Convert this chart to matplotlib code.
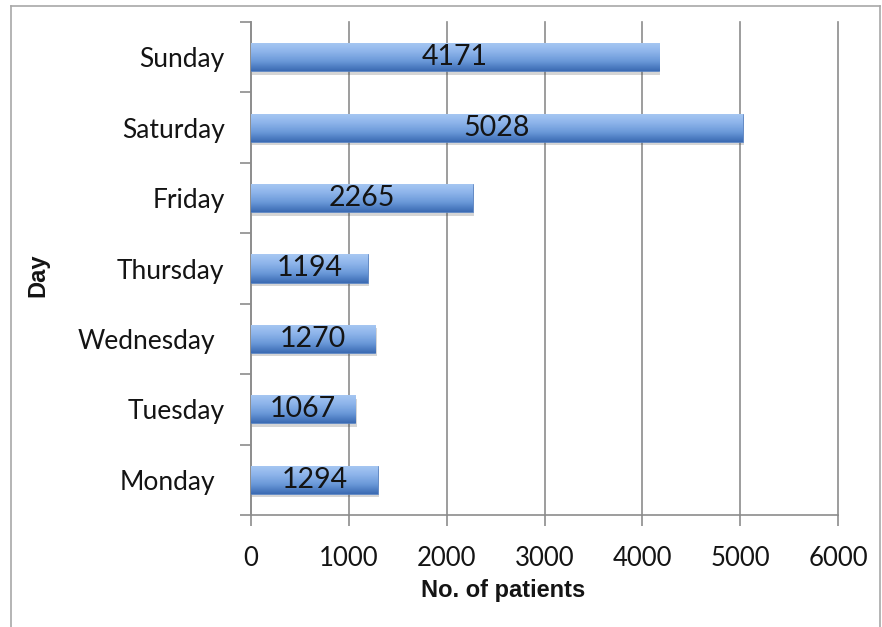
import numpy as np
import matplotlib
matplotlib.use("Agg")
import matplotlib.pyplot as plt
import matplotlib.patheffects as pe
from matplotlib.colors import LinearSegmentedColormap
from matplotlib.lines import Line2D
from matplotlib.transforms import ScaledTranslation

days = ["Monday", "Tuesday", "Wednesday", "Thursday", "Friday", "Saturday", "Sunday"]
patients = [1294, 1067, 1270, 1194, 2265, 5028, 4171]
xticks = [0, 1000, 2000, 3000, 4000, 5000, 6000]

GRID = "#8c8c8c"
TXT = "#141414"
LABEL_FONT = ["Lato", "DejaVu Sans"]
TITLE_FONT = ["Liberation Sans", "DejaVu Sans"]

fig = plt.figure(figsize=(8.82, 6.27), dpi=100)
ax = fig.add_axes([251 / 882, 1 - 515 / 627, (838 - 251) / 882, (515 - 22) / 627])

# frame around the whole figure (left, top, right)
for xs, ys in [([11 / 882, 11 / 882], [0, 1 - 6 / 627]),
               ([11 / 882, 880 / 882], [1 - 6 / 627, 1 - 6 / 627]),
               ([880 / 882, 880 / 882], [0, 1 - 6 / 627])]:
    fig.add_artist(Line2D(xs, ys, transform=fig.transFigure, color="#a8a8a8", lw=1.2))

y = np.arange(len(days))
bars = ax.barh(y, patients, height=0.4, color="#7aa6e0", edgecolor="#4a78bd",
               linewidth=0.5, zorder=3)

# vertical gradient fill + soft shadow underneath
cmap = LinearSegmentedColormap.from_list("grad", ["#3b6bb3", "#6a98d8", "#8db4ea", "#a8c8f3"])
grad = np.linspace(0, 1, 64).reshape(-1, 1)
for b in bars:
    b.set_path_effects([pe.SimplePatchShadow(offset=(1, -2.5), alpha=0.22, shadow_rgbFace="#444444"), pe.Normal()])
    x0, y0 = b.get_x(), b.get_y()
    im = ax.imshow(grad, cmap=cmap, origin="lower", aspect="auto",
                   extent=[x0, x0 + b.get_width(), y0, y0 + b.get_height()], zorder=4)
    im.set_clip_path(b)

for yi, v in zip(y, patients):
    ax.text(v / 2, yi, str(v), ha="center", va="center", fontsize=20.5,
            family=LABEL_FONT, color=TXT, zorder=5)

ax.set_xlim(0, 6000)
ax.set_ylim(-0.5, len(days) - 0.5)
ax.set_xticks(xticks)
ax.set_xticklabels([str(t) for t in xticks], fontsize=18.5, family=LABEL_FONT, color=TXT)
ax.set_yticks(y)
ax.set_yticklabels(days, fontsize=19, family=LABEL_FONT, color=TXT)
ax.set_yticks(np.arange(-0.5, len(days), 1), minor=True)

ax.tick_params(axis="y", which="major", length=0, pad=19)
ax.tick_params(axis="y", which="minor", length=8, width=1.2, color=GRID)
ax.tick_params(axis="x", length=8, width=1.2, color=GRID, pad=14)

# Monday / Wednesday sit a little further left in the original
for lab in ax.get_yticklabels():
    if lab.get_text() in ("Monday", "Wednesday"):
        lab.set_transform(lab.get_transform() + ScaledTranslation(-0.09, 0, fig.dpi_scale_trans))

ax.grid(True, axis="x", color=GRID, lw=1.2, zorder=0)
for gl in ax.get_xgridlines():
    gl.set_clip_on(False)
for s in ["top", "right"]:
    ax.spines[s].set_visible(False)
for s in ["left", "bottom"]:
    ax.spines[s].set_color(GRID)
    ax.spines[s].set_linewidth(1.2)

fig.text(503 / 882, 1 - 590 / 627, "No. of patients", ha="center", va="center",
         fontsize=17, fontweight="bold", family=TITLE_FONT, color=TXT)
fig.text(38 / 882, 1 - 275 / 627, "Day", ha="center", va="center", rotation=90,
         fontsize=17, fontweight="bold", family=TITLE_FONT, color=TXT)

fig.savefig("out.png", dpi=100)
